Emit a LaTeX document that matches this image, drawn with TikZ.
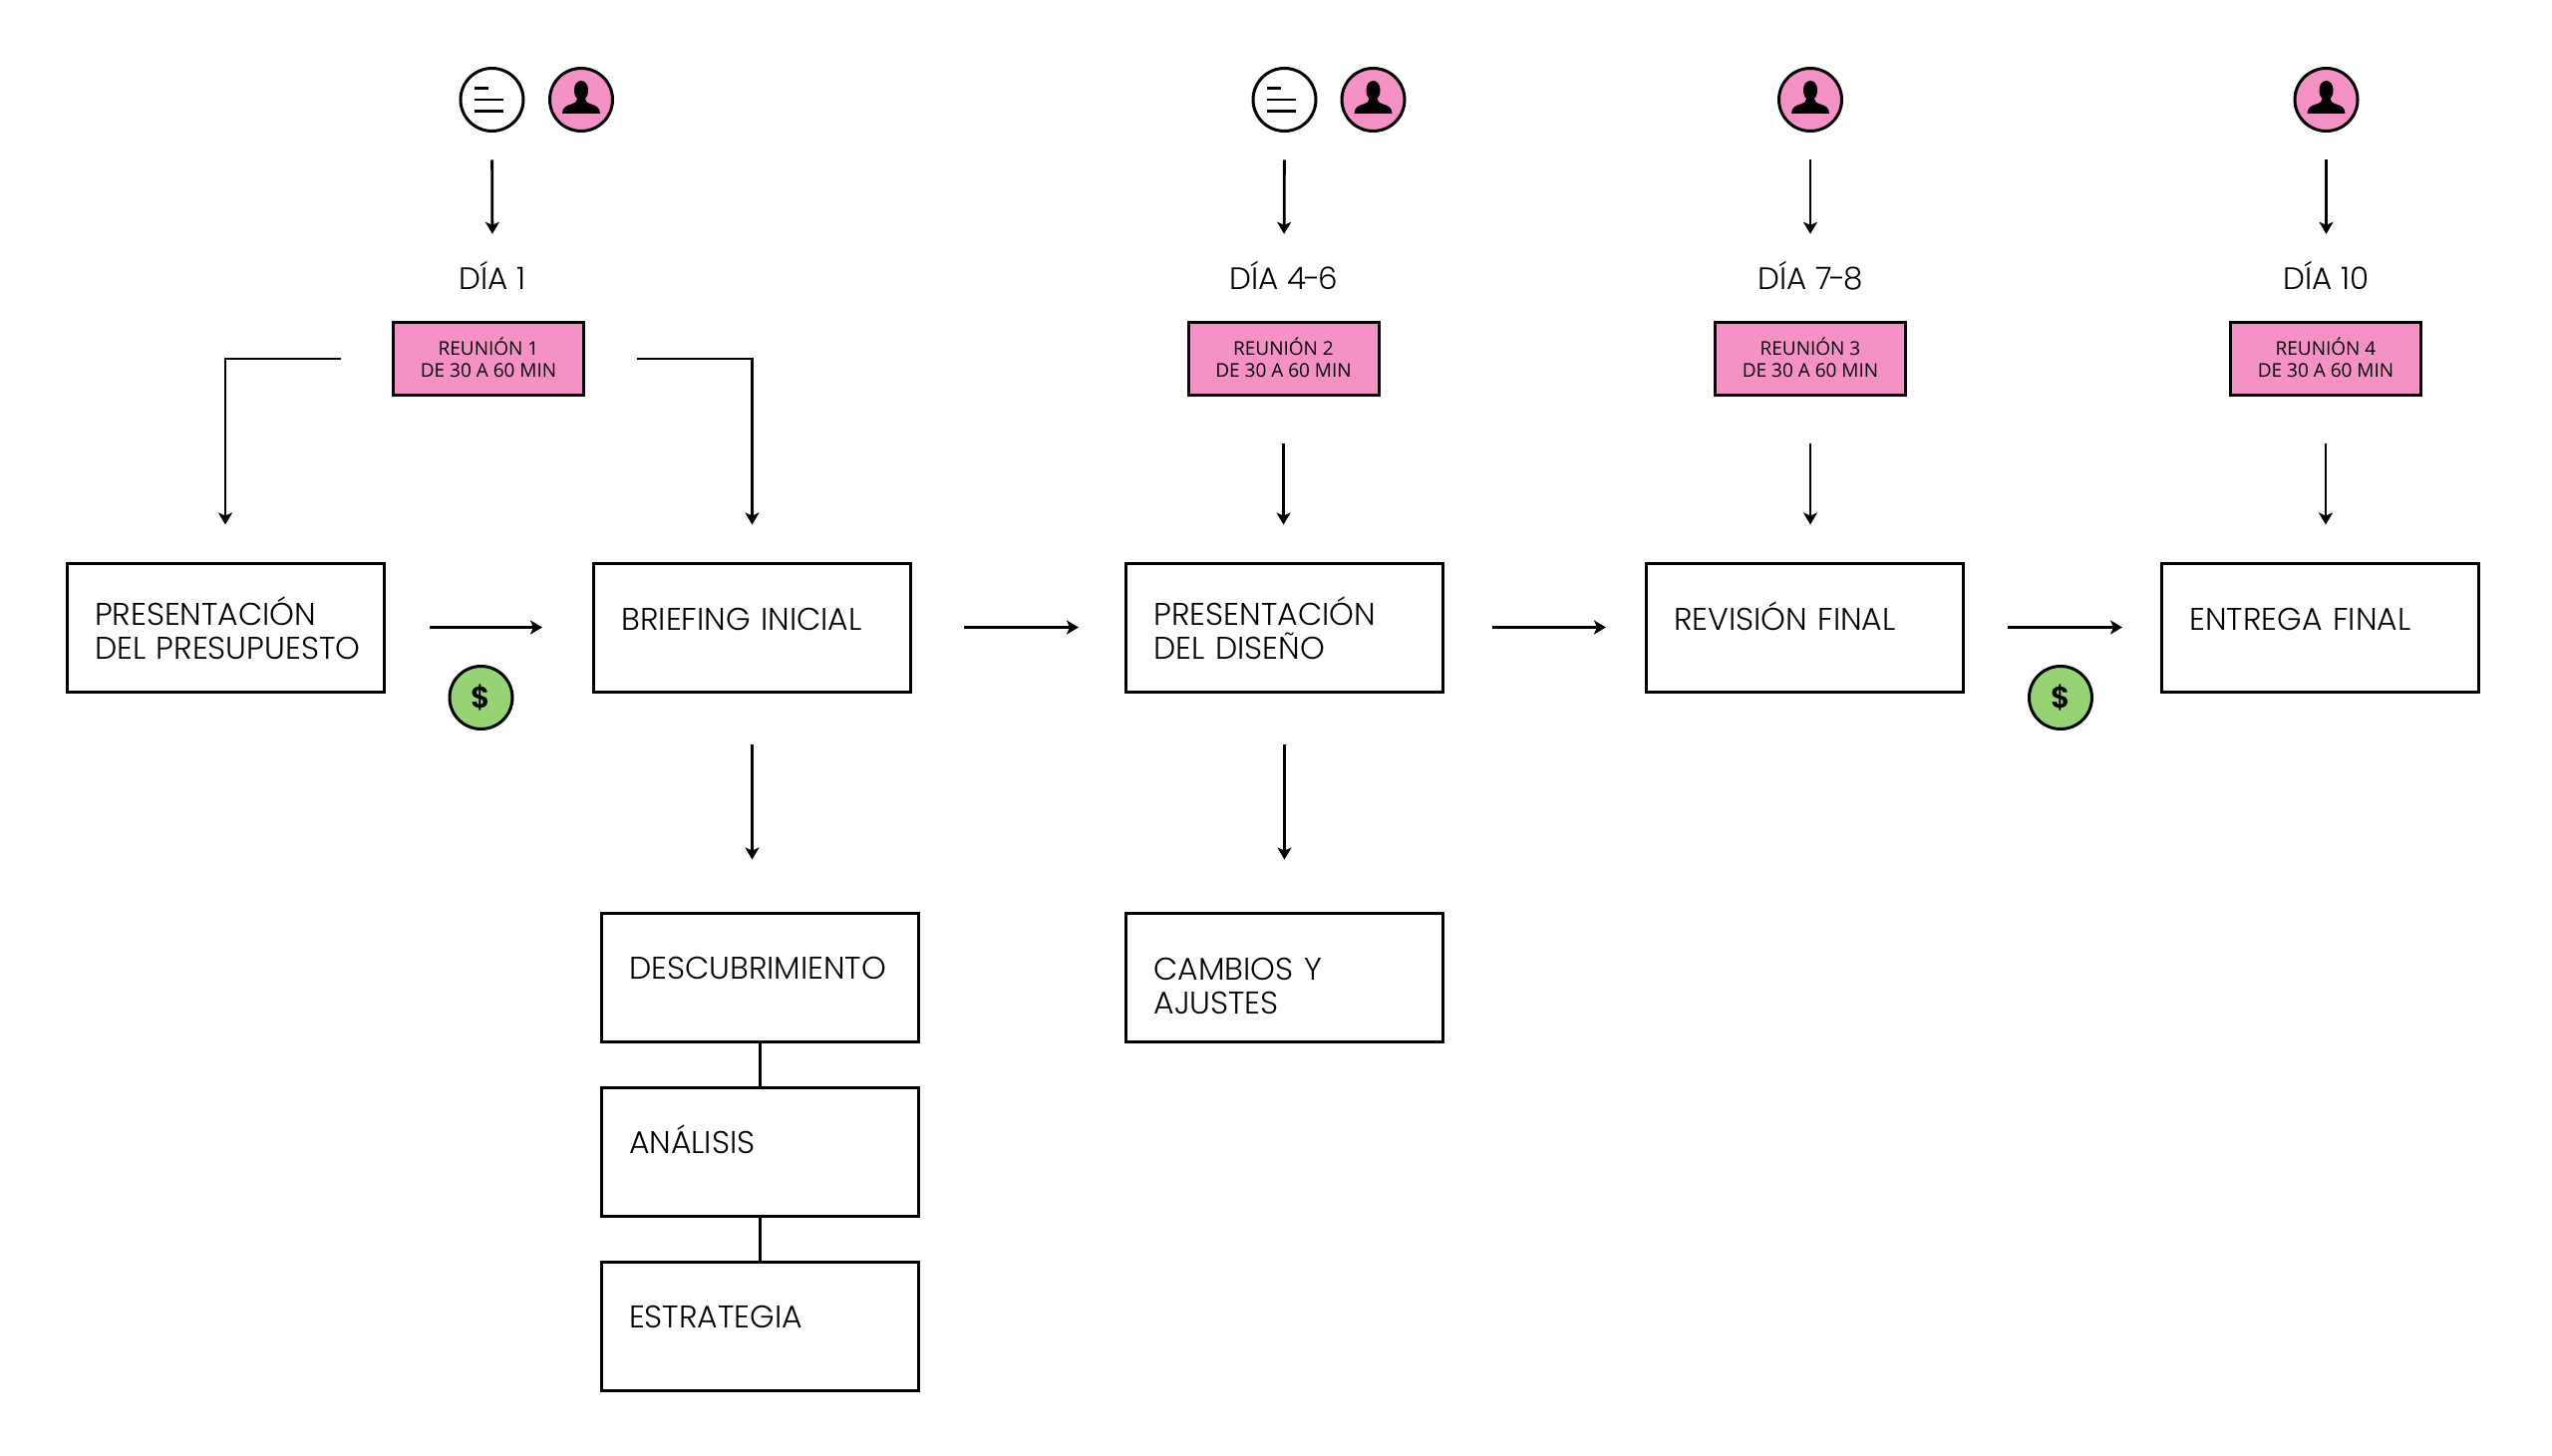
\documentclass[tikz,border=0pt]{standalone}
\usepackage{fontspec}
\setmainfont[UprightFont=* Light,BoldFont=* SemiBold]{Poppins}
\newfontfamily\smallf{Open Sans}
\usetikzlibrary{arrows.meta}
\definecolor{rosa}{HTML}{F492C6}
\definecolor{verde}{HTML}{97D374}
\newcommand{\lowr}{\rule[-3pt]{0pt}{3pt}}
\tikzset{
  x=1pt,y=-1pt,
  mainbox/.style={draw=black,line width=3pt,rectangle,anchor=north west,inner ysep=0pt,inner xsep=28pt,
    text width=262pt,align=left,font=\fontsize{31.5}{34.2}\selectfont},
  twoline/.style={text height=62.5pt,text depth=66.5pt},
  oneline/.style={text height=67.5pt,text depth=61.5pt},
  meet/.style={draw=black,fill=rosa,line width=3pt,rectangle,minimum width=191pt,minimum height=73pt,inner sep=0pt,
    align=center,font=\smallf\fontsize{19}{22}\selectfont},
  daylabel/.style={anchor=base,inner sep=0pt,text height=28pt,font=\fontsize{31}{34}\selectfont},
  iconbase/.style={circle,draw=black,line width=3pt,minimum size=63pt,inner sep=0pt},
  notes/.style={iconbase,fill=white},
  person/.style={iconbase,fill=rosa},
  money/.style={iconbase,fill=verde,font=\bfseries\fontsize{30}{32}\selectfont},
  arr/.style={draw=black,line width=2.8pt,-{Stealth[length=12pt,width=14pt,inset=3pt]}},
  lin/.style={draw=black,line width=3pt},
  glyphline/.style={draw=black,line width=2.5pt},
  personicon/.pic={
    \fill[black] (-19,14) .. controls (-19,8) and (-15,6) .. (-10,4.5)
      .. controls (-6,3) and (-4,2) .. (-4,-1)
      .. controls (-7,-4) and (-7,-8) .. (-7,-10)
      .. controls (-7,-15) and (-4,-19) .. (0,-19)
      .. controls (4,-19) and (7,-15) .. (7,-10)
      .. controls (7,-8) and (7,-4) .. (4,-1)
      .. controls (4,2) and (6,3) .. (10,4.5)
      .. controls (15,6) and (19,8) .. (19,14) -- cycle;
  },
  notesicon/.pic={
    \draw[glyphline] (-18,-11.7) -- (-3.5,-11.7);
    \draw[glyphline] (-18,0) -- (11.7,0);
    \draw[glyphline] (-18,11.7) -- (11.7,11.7);
  }
}
\begin{document}
\begin{tikzpicture}
\useasboundingbox (0,0) rectangle (2560,1461);
% icons
\node[notes] (n1) at (493.5,100) {};
\pic at (n1.center) {notesicon};
\node[person] (u1) at (583,100) {};
\pic at (u1.center) {personicon};
\node[notes] (n2) at (1288.5,100) {};
\pic at (n2.center) {notesicon};
\node[person] (u2) at (1377.5,100) {};
\pic at (u2.center) {personicon};
\node[person] (u3) at (1816,100) {};
\pic at (u3.center) {personicon};
\node[person] (u4) at (2333.5,100) {};
\pic at (u4.center) {personicon};
% day labels
\node[daylabel] (d1) at (494,290) {DÍA 1};
\node[daylabel] (d2) at (1288,290) {DÍA 4\kern-2pt-\kern-2pt 6};
\node[daylabel] (d3) at (1816,290) {DÍA 7\kern-2.5pt-\kern-2.5pt 8};
\node[daylabel] (d4) at (2333.5,290) {DÍA 10};
% meetings
\node[meet] (r1) at (490,360) {REUNIÓN 1\\DE 30 A 60 MIN\lowr};
\node[meet] (r2) at (1287.5,360) {REUNIÓN 2\\DE 30 A 60 MIN\lowr};
\node[meet] (r3) at (1816,360) {REUNIÓN 3\\DE 30 A 60 MIN\lowr};
\node[meet] (r4) at (2333,360) {REUNIÓN 4\\DE 30 A 60 MIN\lowr};
% main boxes
\node[mainbox,twoline] (b1) at (65.5,563.5) {PRESENTACIÓN\\\mbox{DEL PRESUPUESTO}};
\node[mainbox,oneline] (b2) at (594,563.5) {BRIEFING INICIAL};
\node[mainbox,twoline] (b3) at (1128,563.5) {PRESENTACIÓN\\DEL DISEÑO};
\node[mainbox,oneline] (b4) at (1649.5,563.5) {REVISIÓN FINAL};
\node[mainbox,oneline] (b5) at (2167,563.5) {ENTREGA FINAL};
% lower boxes
\node[mainbox,text height=66.5pt,text depth=62.5pt] (s1) at (601.5,914.5) {DESCUBRIMIENTO};
\node[mainbox,text height=66pt,text depth=63pt] (s2) at (601.5,1089.5) {ANÁLISIS};
\node[mainbox,text height=66.5pt,text depth=62.5pt] (s3) at (601.5,1264.5) {ESTRATEGIA};
\node[mainbox,text height=67.5pt,text depth=61.5pt] (c1) at (1128,914.5) {CAMBIOS Y\\AJUSTES};
% money
\node[money] (m1) at (482.5,700) {\$};
\node[money] (m2) at (2067,700) {\$};
% connectors
\draw[arr,shorten <=27.5pt,shorten >=27pt] (n1.south) -- (d1.north);
\draw[arr,shorten <=27.5pt,shorten >=27pt] (n2.south) -- (d2.north);
\draw[arr,shorten <=27.5pt,shorten >=27pt] (u3.south) -- (d3.north);
\draw[arr,shorten <=27.5pt,shorten >=27pt] (u4.south) -- (d4.north);
\draw[arr,shorten <=51.5pt,shorten >=37pt] (r1.west) -| (b1.north);
\draw[arr,shorten <=51.5pt,shorten >=37pt] (r1.east) -| (b2.north);
\draw[arr,shorten <=47pt,shorten >=37pt] (r2.south) -- (r2.south |- b3.north);
\draw[arr,shorten <=47pt,shorten >=37pt] (r3.south) -- (r3.south |- b4.north);
\draw[arr,shorten <=47pt,shorten >=37pt] (r4.south) -- (r4.south |- b5.north);
\draw[arr,shorten <=44pt,shorten >=50pt] (b1.east) -- (b2.west);
\draw[arr,shorten <=52pt,shorten >=46pt] (b2.east) -- (b3.west);
\draw[arr,shorten <=47.5pt,shorten >=38.5pt] (b3.east) -- (b4.west);
\draw[arr,shorten <=43.5pt,shorten >=38pt] (b4.east) -- (b5.west);
\draw[arr,shorten <=51pt,shorten >=52pt] (b2.south) -- (b2.south |- s1.north);
\draw[arr,shorten <=51pt,shorten >=52pt] (b3.south) -- (c1.north);
\draw[lin] (s1.south) -- (s2.north);
\draw[lin] (s2.south) -- (s3.north);
\end{tikzpicture}
\end{document}
